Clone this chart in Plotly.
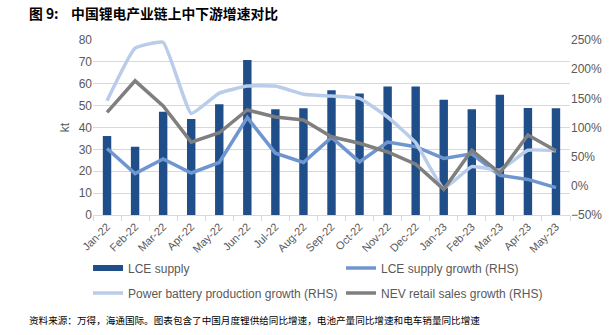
import plotly.graph_objects as go

months = ["Jan-22", "Feb-22", "Mar-22", "Apr-22", "May-22", "Jun-22", "Jul-22", "Aug-22",
          "Sep-22", "Oct-22", "Nov-22", "Dec-22", "Jan-23", "Feb-23", "Mar-23", "Apr-23", "May-23"]
lce_supply = [36.1, 31.2, 47.2, 43.9, 50.6, 70.9, 48.3, 48.8, 57.0, 55.6, 58.7, 58.7, 52.7, 48.3, 55.0, 48.9, 48.8]
lce_growth = [64, 21, 46, 22, 40, 117, 56, 40, 83, 41, 75, 67, 47, 55, 18, 11, -3]
battery_growth = [146, 236, 246, 124, 159, 171, 171, 157, 154, 150, 118, 74, -4, 33, 27, 61, 60]
nev_growth = [126, 180, 137, 75, 91, 130, 118, 113, 84, 73, 58, 37, -6, 61, 22, 87, 60]

FONT = "Liberation Sans"
TICK = "#595959"
C_BAR = "#1F4E89"

L, R, T, B = 93, 41, 40, 120
W, H = 614, 335
pw = W - L - R
ph = H - T - B


def px_x(x):
    return (x - L) / pw


def px_y(y):
    return (H - B - y) / ph


fig = go.Figure()
fig.add_trace(go.Bar(x=months, y=lce_supply, name="LCE supply", marker_color=C_BAR,
                     marker_line_width=0, yaxis="y", showlegend=False))
# legend proxy for the bar series (wide flat swatch like the original)
fig.add_trace(go.Scatter(x=[None], y=[None], name="LCE supply", mode="lines",
                         line=dict(color=C_BAR, width=6), legend="legend"))
fig.add_trace(go.Scatter(x=months, y=lce_growth, name="LCE supply growth (RHS)", mode="lines",
                         line=dict(color="#7096D1", width=3.5), yaxis="y2", legend="legend"))
fig.add_trace(go.Scatter(x=months, y=battery_growth, name="Power battery production growth (RHS)",
                         mode="lines", line=dict(color="#B9CCEA", width=3.5, shape="spline", smoothing=0.35),
                         yaxis="y2", legend="legend2"))
fig.add_trace(go.Scatter(x=months, y=nev_growth, name="NEV retail sales growth (RHS)", mode="lines",
                         line=dict(color="#7F7F7F", width=3.5), yaxis="y2", legend="legend2"))

leg_common = dict(orientation="h", xanchor="left", yanchor="middle",
                  entrywidth=208, entrywidthmode="pixels", font=dict(size=12, color=TICK),
                  itemwidth=30, bgcolor="rgba(0,0,0,0)", borderwidth=0)

fig.update_layout(
    width=W, height=H,
    margin=dict(l=L, r=R, t=T, b=B),
    paper_bgcolor="white", plot_bgcolor="white",
    font=dict(family=FONT, color=TICK, size=12),
    bargap=0.7,
    showlegend=True,
    legend=dict(leg_common, x=px_x(88), y=px_y(268)),
    legend2=dict(leg_common, x=px_x(88), y=px_y(293)),
    xaxis=dict(type="category", tickangle=-45, showgrid=False, showline=True, linecolor="#D9D9D9",
               ticks="outside", tickson="boundaries", ticklen=5, tickcolor="#D9D9D9",
               tickfont=dict(size=11, color=TICK)),
    yaxis=dict(range=[0, 80], dtick=10, showgrid=True, gridcolor="#D9D9D9", zeroline=False,
               title=dict(text="kt", font=dict(size=12, color=TICK), standoff=6),
               tickfont=dict(size=12, color=TICK)),
    yaxis2=dict(range=[-50, 250], dtick=50, overlaying="y", side="right", showgrid=False,
                zeroline=False, ticksuffix="%", tickfont=dict(size=12, color=TICK)),
    annotations=[
        dict(text="<b>图 9:\u00a0\u00a0\u00a0\u00a0中国锂电产业链上中下游增速对比</b>", x=px_x(27), y=px_y(13),
             xref="paper", yref="paper",
             showarrow=False, xanchor="left", yanchor="middle",
             font=dict(family="Noto Sans CJK SC", size=13.8, color="#000000")),
        dict(text="资料来源：万得，海通国际。图表包含了中国月度锂供给同比增速，电池产量同比增速和电车销量同比增速",
             x=px_x(27), y=px_y(320), xref="paper", yref="paper",
             showarrow=False, xanchor="left", yanchor="middle",
             font=dict(family="Noto Sans CJK SC", size=9.6, color="#000000")),
    ],
)

fig.write_html("out.html")
